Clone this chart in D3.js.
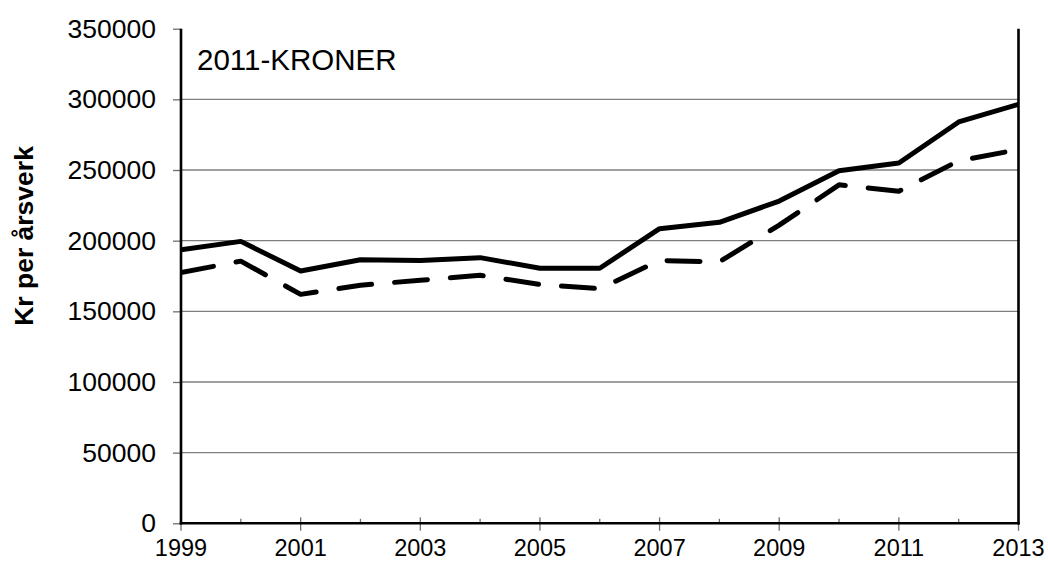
<!DOCTYPE html>
<html>
<head>
<meta charset="utf-8">
<script src="https://cdn.jsdelivr.net/npm/d3@7"></script>
<style>
  html, body { margin: 0; padding: 0; background: #fff; }
  svg { display: block; font-family: "Liberation Sans", Arial, sans-serif; }
</style>
</head>
<body>
<svg id="chart" width="1048" height="563"></svg>
<script>
// Years on the horizontal axis
const years = [1999, 2000, 2001, 2002, 2003, 2004, 2005, 2006, 2007, 2008, 2009, 2010, 2011, 2012, 2013];
// Solid series, kr per årsverk (2011-kroner)
const seriesSolid = [193500, 199500, 178500, 186500, 186000, 188000, 180500, 180500, 208500, 213000, 228000, 249500, 255000, 284000, 296500];
// Dashed series, kr per årsverk (2011-kroner)
const seriesDashed = [177500, 185500, 162000, 168500, 172000, 175500, 169000, 166000, 186000, 185000, 211000, 239500, 235000, 256500, 264500];
// Axis tick values and labels
const yTicks = [0, 50000, 100000, 150000, 200000, 250000, 300000, 350000];
const xLabelYears = [1999, 2001, 2003, 2005, 2007, 2009, 2011, 2013];
const yTitle = "Kr per årsverk";
const panelLabel = "2011-KRONER";

const svg = d3.select("#chart");
const plot = { left: 181, right: 1018.5, top: 28.7, bottom: 523.3 };

const x = d3.scaleLinear().domain([1999, 2013]).range([plot.left, plot.right]);
const y = d3.scaleLinear().domain([0, 350000]).range([plot.bottom, plot.top]);

// Horizontal gridlines
svg.append("g")
  .selectAll("line")
  .data(yTicks.filter(v => v > 0 && v < 350000))
  .join("line")
  .attr("x1", plot.left).attr("x2", plot.right)
  .attr("y1", d => y(d)).attr("y2", d => y(d))
  .attr("stroke", "#7f7f7f").attr("stroke-width", 1.3);

// Y axis with outward ticks
const yAxis = d3.axisLeft(y).tickValues(yTicks).tickSize(8).tickPadding(17).tickFormat(d3.format("d"));
const gy = svg.append("g").attr("transform", `translate(${plot.left},0)`).call(yAxis);
gy.select(".domain").remove();
gy.selectAll(".tick line").attr("stroke", "#6f6f6f").attr("stroke-width", 1.3);
gy.selectAll(".tick text")
  .attr("fill", "#000")
  .style("font-size", "26.5px")
  .style("font-family", "'Liberation Sans', Arial, sans-serif");

// X axis: labelled ticks every second year crossing the axis, small inner ticks between
const gx = svg.append("g").attr("transform", `translate(0,${plot.bottom})`);
gx.selectAll("line.minor")
  .data(years.filter(yr => !xLabelYears.includes(yr)))
  .join("line")
  .attr("class", "minor")
  .attr("x1", d => x(d)).attr("x2", d => x(d))
  .attr("y1", -4.5).attr("y2", 0)
  .attr("stroke", "#6f6f6f").attr("stroke-width", 1.3);
gx.selectAll("line.major")
  .data(xLabelYears)
  .join("line")
  .attr("class", "major")
  .attr("x1", d => x(d)).attr("x2", d => x(d))
  .attr("y1", d => (d === 1999 || d === 2013) ? 0 : -6).attr("y2", 7.5)
  .attr("stroke", "#6f6f6f").attr("stroke-width", 1.3);
gx.selectAll("text")
  .data(xLabelYears)
  .join("text")
  .attr("x", d => x(d)).attr("y", 33)
  .attr("text-anchor", "middle")
  .style("font-size", "23.5px")
  .text(d => d);

// Plot frame: left, bottom and right edges
const frame = svg.append("g").attr("stroke", "#000").attr("stroke-width", 2.6).attr("fill", "none");
frame.append("line").attr("x1", plot.left).attr("x2", plot.left).attr("y1", plot.top).attr("y2", plot.bottom + 1.3);
frame.append("line").attr("x1", plot.left - 1.3).attr("x2", plot.right + 1.3).attr("y1", plot.bottom).attr("y2", plot.bottom);
frame.append("line").attr("x1", plot.right).attr("x2", plot.right).attr("y1", plot.top).attr("y2", plot.bottom + 1.3);

// Data lines
const line = d3.line().x(d => x(d[0])).y(d => y(d[1]));
svg.append("clipPath").attr("id", "plotClip")
  .append("rect").attr("x", plot.left).attr("y", plot.top - 10)
  .attr("width", plot.right - plot.left + 2).attr("height", plot.bottom - plot.top + 10);

svg.append("path")
  .datum(years.map((yr, i) => [yr, seriesSolid[i]]))
  .attr("d", line)
  .attr("clip-path", "url(#plotClip)")
  .attr("fill", "none").attr("stroke", "#000").attr("stroke-width", 5)
  .attr("stroke-linejoin", "round").attr("stroke-linecap", "butt");

svg.append("path")
  .datum(years.map((yr, i) => [yr, seriesDashed[i]]))
  .attr("d", line)
  .attr("clip-path", "url(#plotClip)")
  .attr("fill", "none").attr("stroke", "#000").attr("stroke-width", 5)
  .attr("stroke-linejoin", "round").attr("stroke-linecap", "round")
  .attr("stroke-dasharray", "33,23");

// Panel label inside the plot
svg.append("text")
  .attr("x", 197).attr("y", 69.5)
  .style("font-size", "29.5px")
  .text(panelLabel);

// Y axis title
svg.append("text")
  .attr("transform", "translate(33,236) rotate(-90)")
  .attr("text-anchor", "middle")
  .style("font-size", "26.5px")
  .style("font-weight", "bold")
  .text(yTitle);
</script>
</body>
</html>
